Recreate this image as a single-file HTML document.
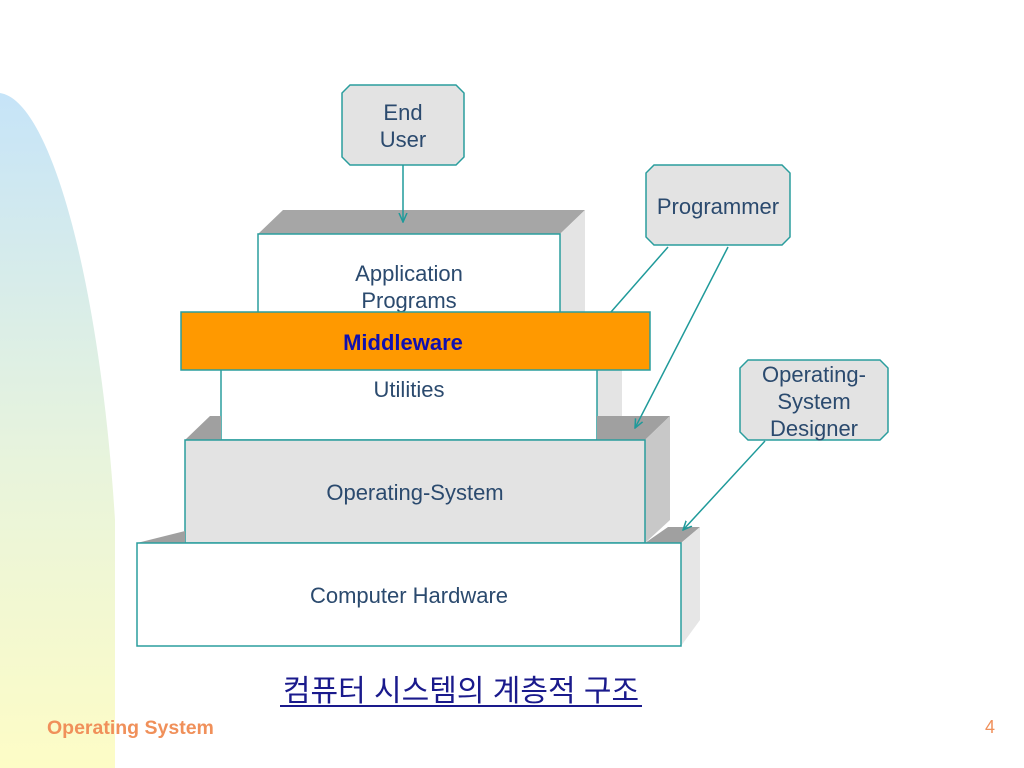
<!DOCTYPE html>
<html><head><meta charset="utf-8"><style>
html,body{margin:0;padding:0;background:#fff;}
svg{display:block;}
text{font-family:"Liberation Sans","Noto Sans CJK KR",sans-serif;}
</style></head><body>
<svg width="1024" height="768" viewBox="0 0 1024 768" xmlns="http://www.w3.org/2000/svg">
<defs>
<linearGradient id="lg" x1="0" y1="0" x2="0" y2="1">
<stop offset="0" stop-color="#c6e4f8"/>
<stop offset="0.55" stop-color="#e8f4dc"/>
<stop offset="1" stop-color="#fdfcc6"/>
</linearGradient>
<marker id="ar" markerWidth="10" markerHeight="10" refX="9" refY="5" orient="auto" markerUnits="userSpaceOnUse">
<path d="M0,1 L9,5 L0,9" fill="none" stroke="#1f9a9a" stroke-width="1.5"/>
</marker>
</defs>
<path d="M0,93 C50,100 100,280 115,520 L115,768 L0,768 Z" fill="url(#lg)"/>

<polygon points="258,234 283,210 585,210 560,234" fill="#a6a6a6"/>
<polygon points="560,234 585,210 585,312 560,312" fill="#e4e4e4"/>
<rect x="258" y="234" width="302" height="80" fill="#fff" stroke="#2a9d9d" stroke-width="1.5"/>
<text x="409" y="281" font-size="22" fill="#2b4a6e" text-anchor="middle">Application</text>
<text x="409" y="308" font-size="22" fill="#2b4a6e" text-anchor="middle">Programs</text>

<polygon points="597,370 622,350 622,416 597,440" fill="#e4e4e4"/>
<rect x="221" y="365" width="376" height="75" fill="#fff" stroke="#2a9d9d" stroke-width="1.5"/>
<text x="409" y="397" font-size="22" fill="#2b4a6e" text-anchor="middle">Utilities</text>

<rect x="181" y="312" width="469" height="58" fill="#ff9900" stroke="#2a9d9d" stroke-width="1.5"/>
<text x="403" y="350" font-size="22" font-weight="bold" fill="#1010b0" text-anchor="middle">Middleware</text>

<polygon points="185,440 210,416 221,416 221,440" fill="#a0a0a0"/>
<polygon points="597,440 597,416 670,416 645,440" fill="#a0a0a0"/>
<polygon points="645,440 670,416 670,520 645,543" fill="#c8c8c8"/>
<rect x="185" y="440" width="460" height="103" fill="#e3e3e3" stroke="#2a9d9d" stroke-width="1.5"/>
<text x="415" y="500" font-size="22" fill="#2b4a6e" text-anchor="middle">Operating-System</text>

<polygon points="137,543 185,531 185,543" fill="#a0a0a0"/>
<polygon points="645,543 668,527 700,527 681,543" fill="#a0a0a0"/>
<polygon points="681,543 700,527 700,620 681,646" fill="#e6e6e6"/>
<rect x="137" y="543" width="544" height="103" fill="#fff" stroke="#2a9d9d" stroke-width="1.5"/>
<text x="409" y="603" font-size="22" fill="#2b4a6e" text-anchor="middle">Computer Hardware</text>

<path d="M350,85 L456,85 L464,93 L464,157 L456,165 L350,165 L342,157 L342,93 Z" fill="#e3e3e3" stroke="#2a9d9d" stroke-width="1.5"/>
<text x="403" y="120" font-size="22" fill="#2b4a6e" text-anchor="middle">End</text>
<text x="403" y="147" font-size="22" fill="#2b4a6e" text-anchor="middle">User</text>
<path d="M654,165 L782,165 L790,173 L790,237 L782,245 L654,245 L646,237 L646,173 Z" fill="#e3e3e3" stroke="#2a9d9d" stroke-width="1.5"/>
<text x="718" y="214" font-size="22" fill="#2b4a6e" text-anchor="middle">Programmer</text>
<path d="M748,360 L880,360 L888,368 L888,432 L880,440 L748,440 L740,432 L740,368 Z" fill="#e3e3e3" stroke="#2a9d9d" stroke-width="1.5"/>
<text x="814" y="382" font-size="22" fill="#2b4a6e" text-anchor="middle">Operating-</text>
<text x="814" y="409" font-size="22" fill="#2b4a6e" text-anchor="middle">System</text>
<text x="814" y="436" font-size="22" fill="#2b4a6e" text-anchor="middle">Designer</text>

<line x1="403" y1="165" x2="403" y2="222" stroke="#1f9a9a" stroke-width="1.5" marker-end="url(#ar)"/>
<line x1="668" y1="247" x2="611" y2="312" stroke="#1f9a9a" stroke-width="1.5"/>
<line x1="728" y1="247" x2="635" y2="428" stroke="#1f9a9a" stroke-width="1.5" marker-end="url(#ar)"/>
<line x1="765" y1="441" x2="683" y2="530" stroke="#1f9a9a" stroke-width="1.5" marker-end="url(#ar)"/>

<text x="461" y="701" font-size="30" fill="#1a1a8c" text-anchor="middle">컴퓨터 시스템의 계층적 구조</text>
<line x1="280" y1="706" x2="642" y2="706" stroke="#1a1a8c" stroke-width="2"/>

<text x="47" y="734" font-size="19.5" font-weight="bold" fill="#f0905a">Operating System</text>
<text x="985" y="733" font-size="18" fill="#f0905a">4</text>
</svg>
</body></html>
